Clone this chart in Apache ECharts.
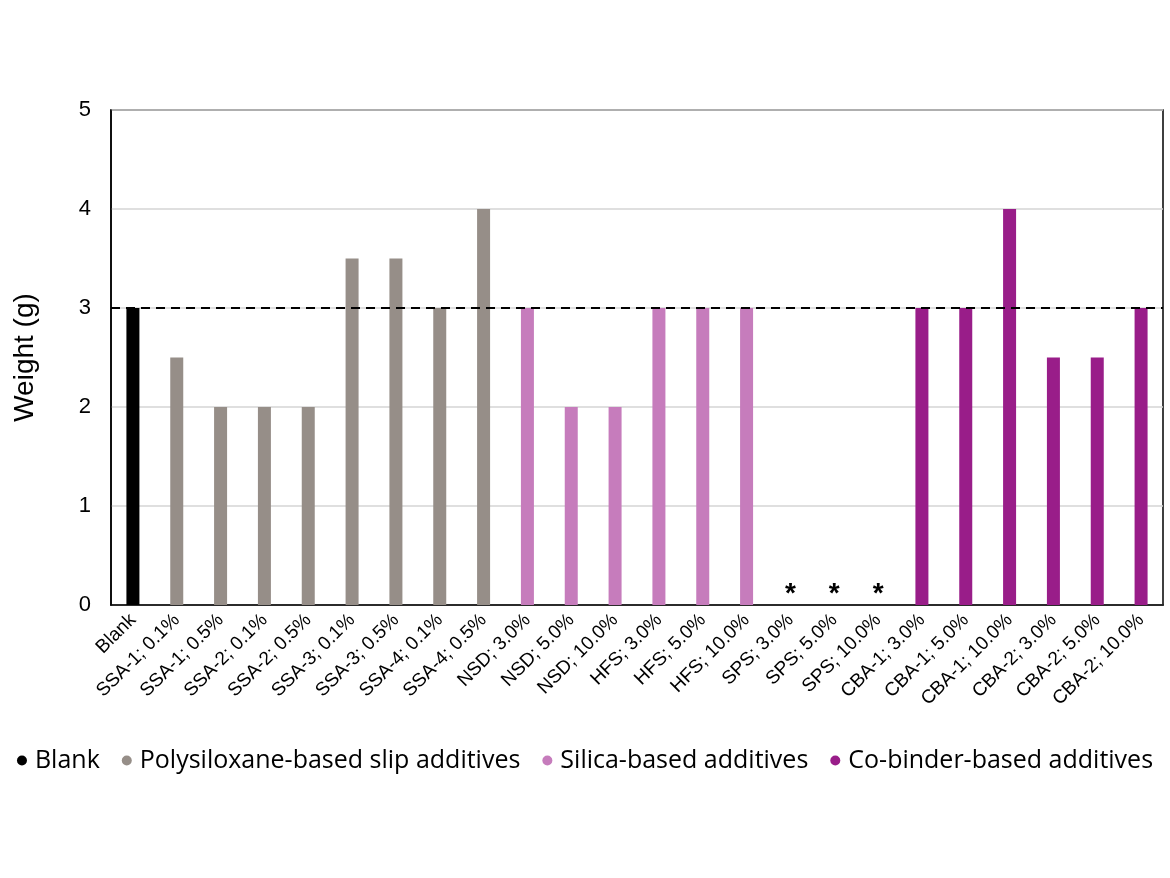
<!DOCTYPE html>
<html><head><meta charset="utf-8">
<script src="https://cdn.jsdelivr.net/npm/echarts@6/dist/echarts.min.js"></script>
<style>html,body{margin:0;padding:0;background:#fff}#c{width:1170px;height:878px}</style>
</head><body><div id="c"></div>
<script>
const categories = ['Blank','SSA-1; 0.1%','SSA-1; 0.5%','SSA-2; 0.1%','SSA-2; 0.5%','SSA-3; 0.1%','SSA-3; 0.5%','SSA-4; 0.1%','SSA-4; 0.5%','NSD; 3.0%','NSD; 5.0%','NSD; 10.0%','HFS; 3.0%','HFS; 5.0%','HFS; 10.0%','SPS; 3.0%','SPS; 5.0%','SPS; 10.0%','CBA-1; 3.0%','CBA-1; 5.0%','CBA-1; 10.0%','CBA-2; 3.0%','CBA-2; 5.0%','CBA-2; 10.0%'];
const groupNames = ['Blank','Polysiloxane-based slip additives','Silica-based additives','Co-binder-based additives'];
const blankValues = [3];
const polysiloxaneValues = [2.5,2,2,2,3.5,3.5,3,4];
const silicaValues = [3,2,2,3,3,3,0,0,0];
const cobinderValues = [3,3,4,2.5,2.5,3];
const noDataLabels = ['SPS; 3.0%','SPS; 5.0%','SPS; 10.0%'];
const referenceLine = 3;
const colors = ['#000000','#968e88','#c67cbc','#991d89'];

function place(vals, start){
  const arr = categories.map(()=>'-');
  vals.forEach((v,i)=>{
    const cat = categories[start+i];
    if (noDataLabels.includes(cat)) {
      arr[start+i] = {value: v, label:{show:true, position:'top', formatter:'*', fontSize:28, fontWeight:'bold', color:'#000', fontFamily:'Liberation Sans', distance:-3}};
    } else arr[start+i] = v;
  });
  return arr;
}
const data = [place(blankValues,0), place(polysiloxaneValues,1), place(silicaValues,9), place(cobinderValues,18)];

const series = groupNames.map((n,i)=>({
  name:n, type:'bar', data:data[i], barWidth:13, barGap:'-100%',
  itemStyle:{color:colors[i]}
}));
series[0].markLine = {silent:true, symbol:'none', label:{show:false},
  lineStyle:{type:[9,6], color:'#000', width:2}, data:[{yAxis:referenceLine}]};

const chart = echarts.init(document.getElementById('c'));
chart.setOption({
  animation:false,
  grid:{left:111,right:7,top:110,bottom:273,show:true,borderColor:'#000',borderWidth:1.5},
  legend:{bottom:100,left:'center',itemGap:22,icon:'circle',itemWidth:16,itemHeight:10,
    textStyle:{fontFamily:'Open Sans',fontSize:25,color:'#000'}, data:groupNames},
  xAxis:{type:'category',data:categories,
    axisLine:{lineStyle:{color:'#000',width:1.5}},axisTick:{show:false},
    axisLabel:{rotate:45,fontFamily:'Liberation Sans',fontSize:19,color:'#000',interval:0,margin:12}},
  yAxis:{type:'value',min:0,max:5,interval:1,name:'Weight (g)',nameLocation:'middle',nameGap:72,
    nameTextStyle:{fontFamily:'Liberation Sans',fontSize:28,color:'#000'},
    axisLine:{show:true,lineStyle:{color:'#000',width:1.5}},
    splitLine:{lineStyle:{color:'#d4d4d4',width:1.5}},
    axisLabel:{fontFamily:'Liberation Sans',fontSize:22,color:'#000',margin:20}},
  series:series
});
</script></body></html>
